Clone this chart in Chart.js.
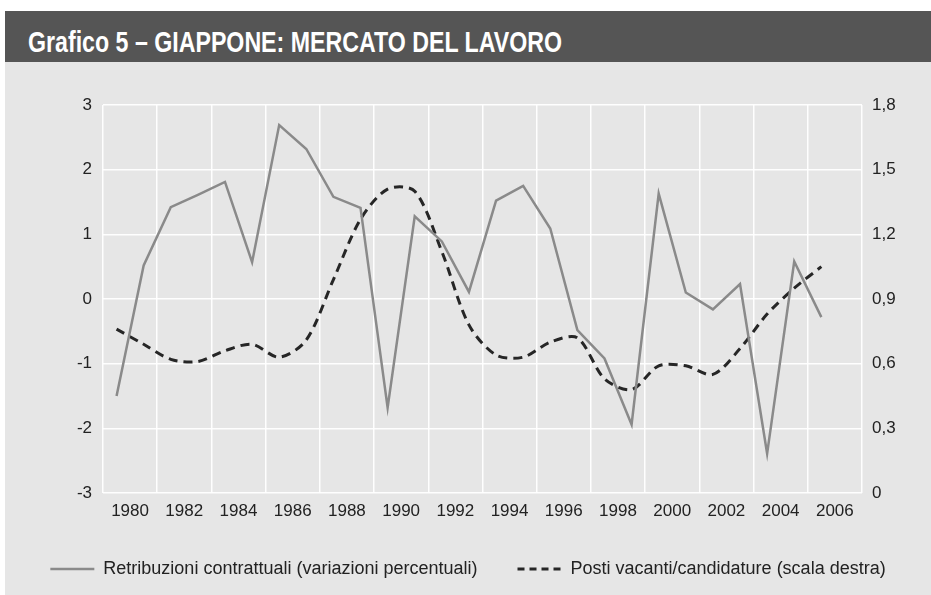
<!DOCTYPE html>
<html>
<head>
<meta charset="utf-8">
<script src="https://cdn.jsdelivr.net/npm/chart.js@4/dist/chart.umd.min.js"></script>
<style>
  html, body { margin: 0; padding: 0; background: #fff; }
  body { width: 931px; height: 595px; position: relative; overflow: hidden; }
  #title_bar {
    position: absolute; left: 5px; top: 11px; width: 926px; height: 51px;
    box-sizing: border-box; padding: 16px 0 0 23px;
    background: #555; color: #fff; white-space: nowrap;
    font: bold 30px/30px "Liberation Sans Narrow", "Liberation Sans", Arial, sans-serif;
  }
  #title_text { display: inline-block; transform-origin: 0 0; }
  #graph_wrap {
    position: absolute; left: 5px; top: 62px; width: 926px; height: 533px;
    background: #e6e6e6;
  }
</style>
</head>
<body>
<div id="title_bar"><span id="title_text">Grafico 5 – GIAPPONE: MERCATO DEL LAVORO</span></div>
<div id="graph_wrap"><canvas id="graph_area" width="926" height="533"></canvas></div>
<script>
// 年 (1980-2007, 最後の列は空)
var years = [1980, 1981, 1982, 1983, 1984, 1985, 1986, 1987, 1988, 1989,
  1990, 1991, 1992, 1993, 1994, 1995, 1996, 1997, 1998, 1999,
  2000, 2001, 2002, 2003, 2004, 2005, 2006, 2007];

// Retribuzioni contrattuali (variazioni percentuali) - scala sinistra
var retribuzioni = [-1.50, 0.52, 1.42, 1.61, 1.81, 0.57, 2.69, 2.32, 1.58, 1.41,
  -1.68, 1.28, 0.89, 0.11, 1.52, 1.75, 1.09, -0.48, -0.92, -1.94,
  1.63, 0.10, -0.16, 0.23, -2.39, 0.58, -0.28, null];

// Posti vacanti/candidature - scala destra
var postiVacanti = [0.76, 0.69, 0.62, 0.61, 0.66, 0.69, 0.63, 0.71, 0.99, 1.27,
  1.41, 1.40, 1.12, 0.78, 0.64, 0.63, 0.70, 0.72, 0.53, 0.48,
  0.59, 0.59, 0.55, 0.67, 0.83, 0.95, 1.05, null];

var leftTicks = [-3, -2, -1, 0, 1, 2, 3];
var rightTicks = [0, 0.3, 0.6, 0.9, 1.2, 1.5, 1.8];

var labelNames = [
  "Retribuzioni contrattuali (variazioni percentuali)",
  "Posti vacanti/candidature (scala destra)"
];

// タイトル幅を元画像に合わせる (condensed font)
fitTitle = function () {
  var span = document.getElementById("title_text");
  var w = span.getBoundingClientRect().width;
  if (w > 0) span.style.transform = "scaleX(" + (534 / w) + ")";
}
fitTitle();

var tickFont = { family: "'Liberation Sans', Arial, sans-serif", size: 17 };
var gridWhite = "rgba(255,255,255,0.95)";

// 凡例にも破線を出す
legendLabels = function (chart) {
  var items = Chart.defaults.plugins.legend.labels.generateLabels(chart);
  items.forEach(function (item) {
    var ds = chart.data.datasets[item.datasetIndex];
    item.lineDash = ds.borderDash ? [7, 5] : [];
    item.lineWidth = ds.borderWidth;
  });
  return items;
}

var ctx = document.getElementById("graph_area").getContext('2d');
new Chart(ctx, {
  type: 'line',
  data: {
    labels: years,
    datasets: [{
      label: labelNames[0],
      data: retribuzioni,
      borderColor: "#8a8a8a",
      backgroundColor: "#8a8a8a",
      borderWidth: 2.5,
      pointRadius: 0,
      tension: 0,
      yAxisID: 'y'
    }, {
      label: labelNames[1],
      data: postiVacanti,
      borderColor: "#262626",
      backgroundColor: "#262626",
      borderWidth: 3,
      borderDash: [9, 6],
      pointRadius: 0,
      tension: 0.3,
      yAxisID: 'y2'
    }]
  },
  options: {
    responsive: false,
    animation: false,
    layout: { padding: { top: 43, bottom: 7, left: 0, right: 0 } },
    plugins: {
      title: { display: false },
      tooltip: { enabled: false },
      legend: {
        position: 'bottom',
        labels: {
          usePointStyle: true,
          pointStyle: 'line',
          pointStyleWidth: 44,
          padding: 40,
          color: "#222",
          font: { family: "'Liberation Sans', Arial, sans-serif", size: 18 },
          generateLabels: legendLabels
        }
      }
    },
    scales: {
      x: {
        type: 'category',
        offset: true,
        border: { display: false },
        grid: {
          offset: true,
          drawTicks: false,
          lineWidth: 1.5,
          // 2年ごとに縦線
          color: function (c) {
            return (c.index === undefined || c.index % 2 === 0) ? gridWhite : "rgba(0,0,0,0)";
          }
        },
        ticks: {
          autoSkip: false,
          maxRotation: 0,
          padding: 8,
          labelOffset: 13.5,
          color: "#222",
          font: tickFont,
          callback: function (value, index) {
            var y = years[index];
            return (y % 2 === 0 && y < 2007) ? String(y) : "";
          }
        },
        afterFit: function (scale) { scale.height = 27; }
      },
      y: {
        position: 'left',
        min: leftTicks[0],
        max: leftTicks[leftTicks.length - 1],
        border: { display: false },
        grid: { color: gridWhite, lineWidth: 1.5, drawTicks: false },
        ticks: { stepSize: 1, padding: 11, color: "#222", font: tickFont },
        afterFit: function (scale) { scale.width = 98; }
      },
      y2: {
        position: 'right',
        min: rightTicks[0],
        max: rightTicks[rightTicks.length - 1],
        border: { display: false },
        grid: { display: false, drawTicks: false },
        ticks: {
          stepSize: 0.3,
          padding: 10,
          color: "#222",
          font: tickFont,
          callback: function (value) {
            return value === 0 ? "0" : value.toFixed(1).replace(".", ",");
          }
        },
        afterFit: function (scale) { scale.width = 69; }
      }
    }
  }
});
</script>
</body>
</html>
